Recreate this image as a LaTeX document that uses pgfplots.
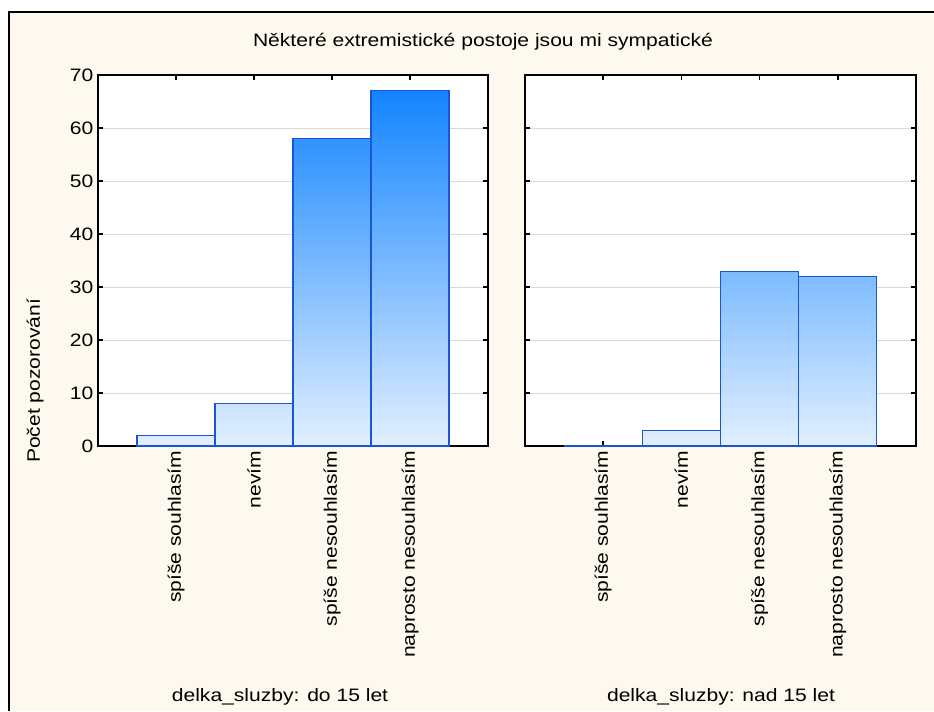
\documentclass[border=0pt]{standalone}
\usepackage{fontspec}
\setmainfont{Liberation Sans}[FakeStretch=1.17]
\usepackage{pgfplots}
\pgfplotsset{compat=1.18}
\definecolor{cream}{RGB}{253,249,238}
\definecolor{barTop}{RGB}{10,128,255}
\definecolor{barBot}{RGB}{226,239,255}
\definecolor{barEdge}{RGB}{25,85,215}
\definecolor{gridgray}{RGB}{218,218,218}

\pgfplotsset{
  panel/.style={
    scale only axis, anchor=south west,
    height=278.25pt,
    xmin=-1, xmax=4, ymin=0, ymax=70,
    xtick={0,1,2,3}, ytick={0,10,...,70},
    tick align=inside, major tick length=4pt,
    tick style={black, line width=1.2pt},
    axis line style={black, line width=1.5pt},
    ymajorgrids, major grid style={gridgray, line width=0.6pt},
    axis background/.style={fill=white},
    xticklabels={spíše souhlasím, nevím, spíše nesouhlasím, naprosto nesouhlasím},
    x tick label style={rotate=90, anchor=east},
    xtick pos=both, ytick pos=both,
    xticklabel pos=lower,
    /pgf/number format/assume math mode=true,
    tick label style={font=\fontsize{13.5}{15}\selectfont},
  },
  % one bar per plot, shaded from the axis floor up to its own height
  bar/.style={
    ybar, bar width=1, bar shift=0pt,
    draw=barEdge, line width=0.8pt,
    top color=barTop!#1!barBot, bottom color=barBot,
  },
}

\begin{document}
\begin{tikzpicture}[x=0.75pt, y=0.75pt]
\useasboundingbox (0,0) rectangle (934,711);
\fill[white] (0,0) rectangle (934,711);
\fill[cream] (9,0) rectangle (934,699);
\draw[black, line width=1.5pt] (9,0) -- (9,699) -- (934,699);

\node[font=\fontsize{13.5}{15}\selectfont] at (483,669) {Některé extremistické postoje jsou mi sympatické};
\node[font=\fontsize{13.5}{15}\selectfont, rotate=90] at (35,330) {Počet pozorování};
\node[font=\fontsize{13.5}{15}\selectfont] at (280,14) {delka\_sluzby: do 15 let};
\node[font=\fontsize{13.5}{15}\selectfont] at (721,14) {delka\_sluzby: nad 15 let};

\begin{axis}[panel, at={(73.5pt,198.75pt)}, width=292.5pt, yticklabel pos=left]
\addplot[bar=3] coordinates {(0,2)};
\addplot[bar=11] coordinates {(1,8)};
\addplot[bar=83] coordinates {(2,58)};
\addplot[bar=96] coordinates {(3,67)};
\end{axis}

\begin{axis}[panel, at={(393.75pt,198.75pt)}, width=293.25pt, yticklabels={}]
\addplot[ybar, bar width=1, bar shift=0pt, draw=barEdge, line width=0.8pt] coordinates {(0,0)};
\addplot[bar=4] coordinates {(1,3)};
\addplot[bar=47] coordinates {(2,33)};
\addplot[bar=46] coordinates {(3,32)};
\end{axis}
\end{tikzpicture}
\end{document}
